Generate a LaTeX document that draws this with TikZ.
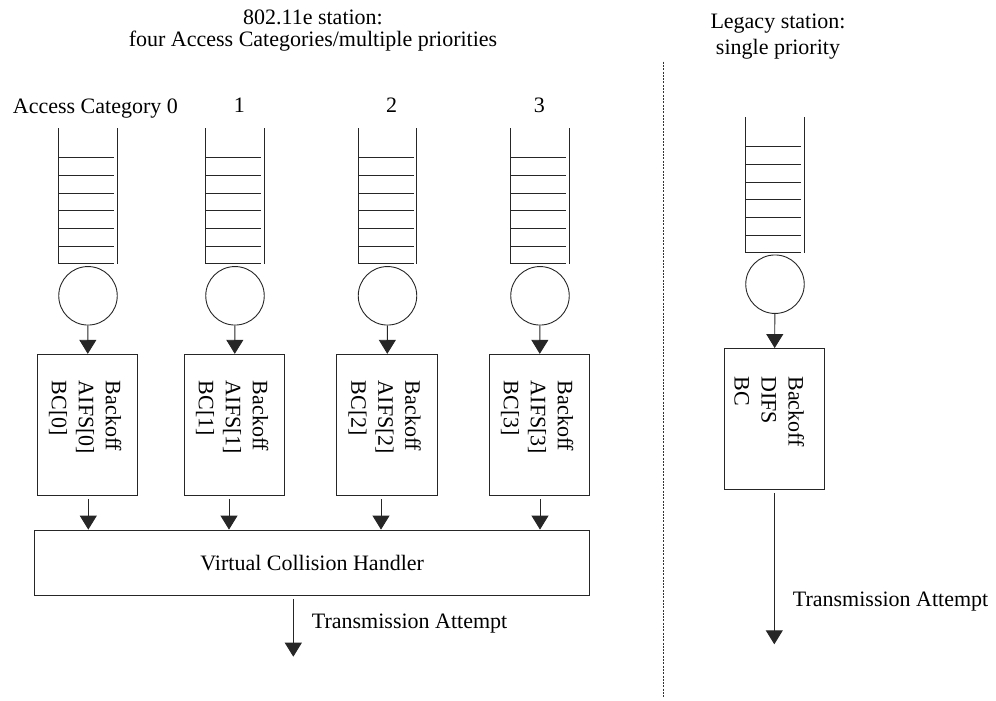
\documentclass[tikz,border=0pt]{standalone}
\usepackage{fontspec}
\setmainfont{Liberation Serif}
\usetikzlibrary{arrows.meta,calc}

\tikzset{
  line/.style={line width=0.9pt, draw=black!85},
  flow/.style={line, -{Triangle[width=17pt,length=14pt]}},
  server/.style={circle, line, minimum size=58.5pt, inner sep=0pt},
  acbox/.style={rectangle, line, minimum width=100.4pt, minimum height=141.4pt, inner sep=0pt},
  handler/.style={rectangle, line, minimum width=555pt, minimum height=65.3pt, inner sep=0pt},
  lbl/.style={font=\fontsize{22}{27}\selectfont, inner sep=0pt},
  vtext/.style={lbl, rotate=-90, anchor=north west, align=left},
  divider/.style={line width=0.8pt, draw=black!80, dash pattern=on 2pt off 1.3pt},
  % a FIFO queue: two rails and seven slot lines, origin at the top centre
  pics/fifo/.style={code={
    \draw[line] (-29.2,0) -- (-29.2,135.7);
    \draw[line] (29.2,0) -- (29.2,135.7);
    \foreach \k in {0,...,6}
      \draw[line] (-29.2,{29.7+\k*17.67}) -- (26.4,{29.7+\k*17.67});
  }},
}

\begin{document}
\begin{tikzpicture}[x=1pt,y=-1pt]
\path[use as bounding box] (0,0) rectangle (996,701);

% ---- titles ----
\node[lbl, anchor=base] (t1) at (313,25) {802.11e station:};
\node[lbl, anchor=base] (t2) at (313,47) {four Access Categories/multiple priorities};
\node[lbl, anchor=base] (t3) at (778,28.5) {Legacy station:};
\node[lbl, anchor=base] (t4) at (778,55) {single priority};

% ---- access category labels ----
\node[lbl, anchor=base west] (c0) at (12.7,113.3) {Access Category 0};
\node[lbl, anchor=base] (c1) at (239.3,112.5) {1};
\node[lbl, anchor=base] (c2) at (391.7,112.5) {2};
\node[lbl, anchor=base] (c3) at (539.3,112.5) {3};

% ---- queues ----
\pic at (88,128) {fifo};
\pic at (235,128) {fifo};
\pic at (387.5,128) {fifo};
\pic at (540,128) {fifo};
\pic at (775,117) {fifo};

% ---- servers ----
\node[server] (s0) at (88,295.8) {};
\node[server] (s1) at (235,295.8) {};
\node[server] (s2) at (387.5,295.8) {};
\node[server] (s3) at (540,295.8) {};
\node[server] (sL) at (775,284.2) {};

% ---- backoff boxes ----
\node[acbox] (b0) at (87.5,425) {};
\node[acbox] (b1) at (234.5,425) {};
\node[acbox] (b2) at (387,425) {};
\node[acbox] (b3) at (539.5,425) {};
\node[acbox] (bL) at (774.3,419.2) {};

\node[vtext] (x0) at ($(b0.north east)+(-16.7,26.8)$) {Backoff\\AIFS[0]\\BC[0]};
\node[vtext] (x1) at ($(b1.north east)+(-16.7,26.8)$) {Backoff\\AIFS[1]\\BC[1]};
\node[vtext] (x2) at ($(b2.north east)+(-16.7,26.8)$) {Backoff\\AIFS[2]\\BC[2]};
\node[vtext] (x3) at ($(b3.north east)+(-16.7,26.8)$) {Backoff\\AIFS[3]\\BC[3]};
\node[vtext] (xL) at ($(bL.north east)+(-20.7,28.2)$) {Backoff\\DIFS\\BC};

% ---- virtual collision handler ----
\node[handler, lbl, line] (vch) at (312.2,562.7) {Virtual Collision Handler};

% ---- connectors ----
\foreach \i in {0,1,2,3,L}
  \draw[flow] (s\i) -- (b\i);

\draw[flow] ([shift={(0.8,3)}]b0.south) -- ([xshift=0.8pt]b0.south |- vch.north);
\draw[flow] ([shift={(-5.5,3)}]b1.south) -- ([xshift=-5.5pt]b1.south |- vch.north);
\draw[flow] ([shift={(-6,3)}]b2.south) -- ([xshift=-6pt]b2.south |- vch.north);
\draw[flow] ([shift={(0.5,3)}]b3.south) -- ([xshift=0.5pt]b3.south |- vch.north);

\coordinate (tx) at (293.3,656.7);
\draw[flow] ([yshift=-3pt]vch.south -| tx) -- (tx);
\node[lbl, anchor=base west] (a0) at (311.7,628.3) {Transmission Attempt};

\coordinate (txL) at (774.3,644.3);
\draw[flow] ([yshift=-3pt]bL.south) -- (txL);
\node[lbl, anchor=base west] (aL) at (792.7,606) {Transmission Attempt};

% ---- divider between the two stations ----
\coordinate (dTop) at (663.3,61.7);
\coordinate (dBot) at (663.3,697);
\draw[divider] (dTop) -- (dBot);
\end{tikzpicture}
\end{document}
